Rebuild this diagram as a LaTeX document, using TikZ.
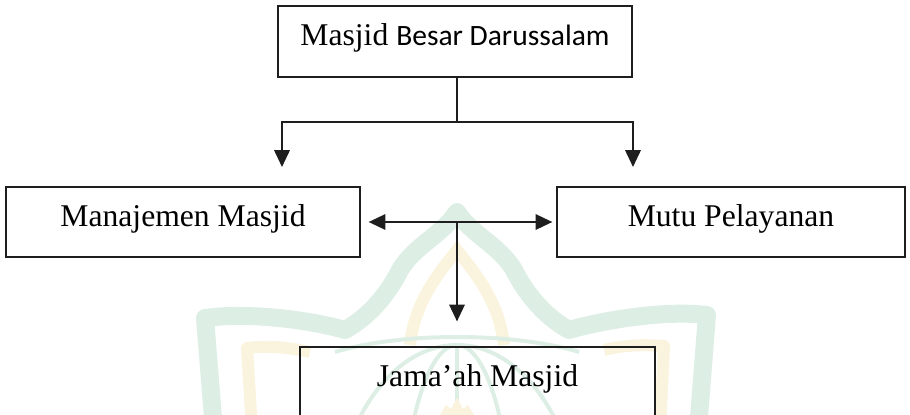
\documentclass[tikz,border=0pt]{standalone}
\usepackage{fontspec}
\setmainfont{Liberation Serif}
\newfontfamily\calibrifont{Carlito}
\usetikzlibrary{arrows.meta}
\definecolor{ink}{RGB}{30, 30, 30}
\definecolor{wmgreen}{RGB}{221, 238, 229}
\definecolor{wmyellow}{RGB}{250, 243, 222}

\tikzset{
  unit/.style={draw=ink, line width=0.8pt, minimum height=1.75cm, inner sep=0pt,
    text height=15.5pt, text depth=9.5pt, font=\fontsize{22.5}{27}\selectfont},
  link/.style={draw=ink, line width=1.4pt},
  tip/.style={link, -{Triangle[length=12pt, width=11pt]}},
  bitip/.style={link, {Triangle[length=12pt, width=11pt]}-{Triangle[length=12pt, width=11pt]}},
}

\begin{document}
\begin{tikzpicture}[x=0.025cm, y=-0.025cm]
  \useasboundingbox (0, 0) rectangle (910, 415);

  % faint logo behind the diagram
  \begin{scope}
    \clip (0, 0) rectangle (910, 415);
    \draw[wmgreen, line width=0.45cm, line join=round]
      (214, 430) -- (205, 318) .. controls (250, 312) and (310, 320) .. (345, 330)
      .. controls (372, 315) and (390, 290) .. (400, 270)
      .. controls (415, 245) and (442, 235) .. (457, 212)
      .. controls (472, 235) and (499, 245) .. (514, 270)
      .. controls (524, 290) and (542, 315) .. (569, 330)
      .. controls (604, 320) and (664, 310) .. (707, 315) -- (698, 430);
    \draw[wmyellow, line width=0.3cm, line join=round]
      (252, 430) -- (247, 348) .. controls (270, 345) and (290, 348) .. (310, 352);
    \draw[wmyellow, line width=0.3cm, line join=round]
      (660, 430) -- (664, 346) .. controls (640, 344) and (620, 346) .. (604, 350);
    \draw[wmyellow, line width=0.3cm]
      (410, 345) .. controls (415, 300) and (440, 272) .. (457, 250)
      .. controls (474, 272) and (499, 300) .. (504, 345);
    \draw[wmgreen, line width=0.1cm] (335, 352) .. controls (400, 332) and (514, 332) .. (579, 352);
    \foreach \rx in {55, 125} {
      \draw[wmgreen, line width=0.1cm] (457, 540) ellipse [x radius=\rx, y radius=195];
    }
    \draw[wmgreen, line width=0.1cm] (457, 345) -- (457, 415);
    \fill[wmyellow] (440, 415) -- (446, 405) -- (451, 409) -- (457, 398) -- (463, 409) -- (468, 405) -- (474, 415) -- cycle;
  \end{scope}

  \node[unit, minimum width=8.85cm, minimum height=1.775cm] (masjid) at (455, 41.5)
    {Masjid {\calibrifont\fontsize{21}{26}\selectfont Besar Darussalam}};
  \node[unit, minimum width=8.85cm] (manajemen) at (183, 222) {Manajemen Masjid};
  \node[unit, minimum width=8.7cm] (mutu) at (731, 222) {Mutu Pelayanan};
  \node[unit, minimum width=8.875cm] (jamaah) at (477.5, 382) {Jama’ah Masjid};

  \coordinate (fork) at (457, 122);
  \coordinate (leftend) at (282, 167);
  \coordinate (rightend) at (633, 167);
  \coordinate (hub) at (457, 223);

  \draw[link] (fork |- masjid.south) -- (fork);
  \draw[tip] (fork) -| (leftend);
  \draw[tip] (fork) -| (rightend);

  \draw[bitip] ([xshift=0.2cm]manajemen.east) -- ([xshift=-0.1cm]mutu.west);
  \draw[tip, shorten >=0.625cm] (hub) -- (hub |- jamaah.north);
\end{tikzpicture}
\end{document}
